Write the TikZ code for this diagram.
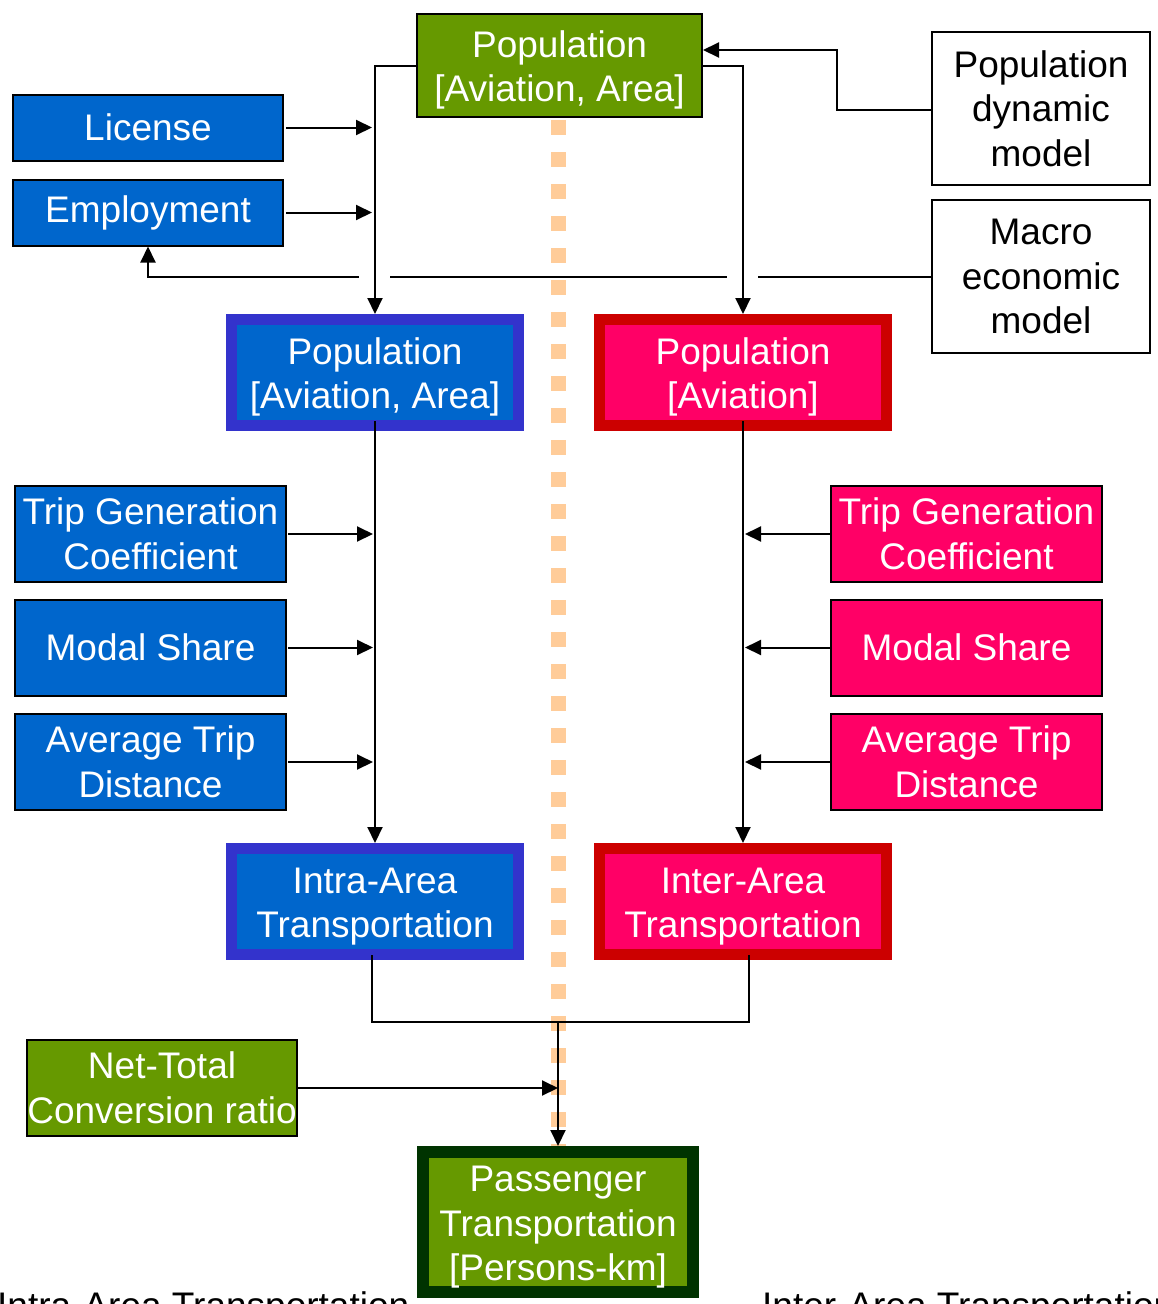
\documentclass[tikz,border=0pt]{standalone}
\usepackage{fontspec}
\setmainfont{Liberation Sans}
\usetikzlibrary{arrows.meta}
\definecolor{cgreen}{HTML}{669900}
\definecolor{cblue}{HTML}{0066CC}
\definecolor{cbord}{HTML}{3333CC}
\definecolor{cred}{HTML}{CC0000}
\definecolor{cpink}{HTML}{FF0066}
\definecolor{cdark}{HTML}{003300}
\definecolor{cpeach}{HTML}{FFCC99}
\newcommand{\topstrutx}{\rule{0pt}{36pt}}
\begin{document}
\begin{tikzpicture}[x=1pt,y=-1pt,
  txt/.style={font=\fontsize{37}{44.5}\selectfont, align=center, inner sep=0pt},
  box/.style={txt, draw=black, line width=2pt, text=white},
  bluebox/.style={box, fill=cblue},
  pinkbox/.style={box, fill=cpink},
  greenbox/.style={box, fill=cgreen},
  whitebox/.style={txt, draw=black, line width=2pt, fill=white, text=black},
  dblA/.style={txt, draw=cbord, line width=11pt, fill=cblue, text=white, minimum width=287pt, minimum height=106pt},
  dblB/.style={txt, draw=cred, line width=11pt, fill=cpink, text=white, minimum width=287pt, minimum height=106pt},
  dblC/.style={txt, draw=cdark, line width=12pt, fill=cgreen, text=white, minimum width=270pt, minimum height=140pt},
  con/.style={line width=2pt, draw=black},
  arr/.style={con, -{Triangle[length=16pt,width=15pt]}},
  divider/.style={draw=cpeach, line width=15pt, dash pattern=on 15pt off 17pt}
]
\useasboundingbox (0,0) rectangle (1158,1304);
\clip (0,0) rectangle (1158,1304);
\fill[white] (0,0) rectangle (1158,1304);

% divider
\draw[divider] (558.5,120) -- (558.5,1320);

% nodes
\node[greenbox, minimum width=285pt, minimum height=103pt] (top) at (559.5,65.5) {\topstrutx Population\\{}[Aviation, Area]};
\node[bluebox, minimum width=270pt, minimum height=66pt] (lic) at (148,127.5) {License};
\node[bluebox, minimum width=270pt, minimum height=66pt] (emp) at (148,212.5) {Employment};
\node[whitebox, minimum width=218pt, minimum height=153pt] (pdm) at (1041,108.5) {Population\\dynamic\\model};
\node[whitebox, minimum width=218pt, minimum height=153pt] (mem) at (1041,276.5) {Macro\\economic\\model};

\node[dblA] (popA) at (375,372.5) {\topstrutx Population\\{}[Aviation, Area]};
\node[dblB] (popB) at (743,372.5) {\topstrutx Population\\{}[Aviation]};

\node[bluebox, minimum width=271pt, minimum height=96pt] (tgL) at (150.5,534) {Trip Generation\\Coefficient};
\node[bluebox, minimum width=271pt, minimum height=96pt] (msL) at (150.5,647.5) {Modal Share};
\node[bluebox, minimum width=271pt, minimum height=96pt] (atL) at (150.5,762) {Average Trip\\Distance};

\node[pinkbox, minimum width=271pt, minimum height=96pt] (tgR) at (966.5,534) {Trip Generation\\Coefficient};
\node[pinkbox, minimum width=271pt, minimum height=96pt] (msR) at (966.5,647.5) {Modal Share};
\node[pinkbox, minimum width=271pt, minimum height=96pt] (atR) at (966.5,762) {Average Trip\\Distance};

\node[dblA] (intra) at (375,901.5) {\topstrutx Intra-Area\\Transportation};
\node[dblB] (inter) at (743,901.5) {\topstrutx Inter-Area\\Transportation};

\node[greenbox, minimum width=270pt, minimum height=96pt] (net) at (162,1088) {Net-Total\\Conversion ratio};
\node[dblC] (pass) at (558,1222) {\topstrutx Passenger\\Transportation\\{}[Persons-km]};

\node[txt, anchor=base west] (capA) at (-3,1318.5) {Intra-Area Transportation};
\node[txt, anchor=base west] (capB) at (762,1318.5) {Inter-Area Transportation};

% macro economic line with jumps
\draw[arr] (mem.west) -| (emp.south);
\coordinate (jl) at (popA.north |- mem.west);
\coordinate (jr) at (popB.north |- mem.west);
\fill[white] ([xshift=-16pt,yshift=-3pt]jl) rectangle ([xshift=15pt,yshift=3pt]jl);
\fill[white] ([xshift=-16pt,yshift=-3pt]jr) rectangle ([xshift=15pt,yshift=3pt]jr);

% top connectors
\draw[arr] (top.west) -| (popA.north);
\draw[arr] (top.east) -| (popB.north);
\draw[arr] ([yshift=-1.5pt]pdm.west) -- ++(-94,0) |- ([yshift=15.5pt]top.east);

% inputs on the left
\draw[arr, shorten <=2pt, shorten >=3pt] (lic.east) -- (lic.east -| popA.north);
\draw[arr, shorten <=2pt, shorten >=3pt] (emp.east) -- (emp.east -| popA.north);

% area chains
\draw[arr] ([yshift=10pt]popA.south) -- (intra.north);
\draw[arr] ([yshift=10pt]popB.south) -- (inter.north);

\draw[arr, shorten <=1pt, shorten >=2pt] (tgL.east) -- (tgL.east -| popA.south);
\draw[arr, shorten <=1pt, shorten >=2pt] (msL.east) -- (msL.east -| popA.south);
\draw[arr, shorten <=1pt, shorten >=2pt] (atL.east) -- (atL.east -| popA.south);

\draw[arr, shorten >=2pt] (tgR.west) -- (tgR.west -| popB.south);
\draw[arr, shorten >=2pt] (msR.west) -- (msR.west -| popB.south);
\draw[arr, shorten >=2pt] (atR.west) -- (atR.west -| popB.south);

% merge
\coordinate (mg) at ([xshift=-3pt,yshift=-62pt]intra.south);
\draw[con] ([xshift=-3pt,yshift=5pt]intra.south) -- (mg) -| ([xshift=6pt,yshift=5pt]inter.south);
\draw[arr] (mg -| pass.north) -- (pass.north);
\draw[arr] (net.east) -- (net.east -| pass.north);
\end{tikzpicture}
\end{document}
